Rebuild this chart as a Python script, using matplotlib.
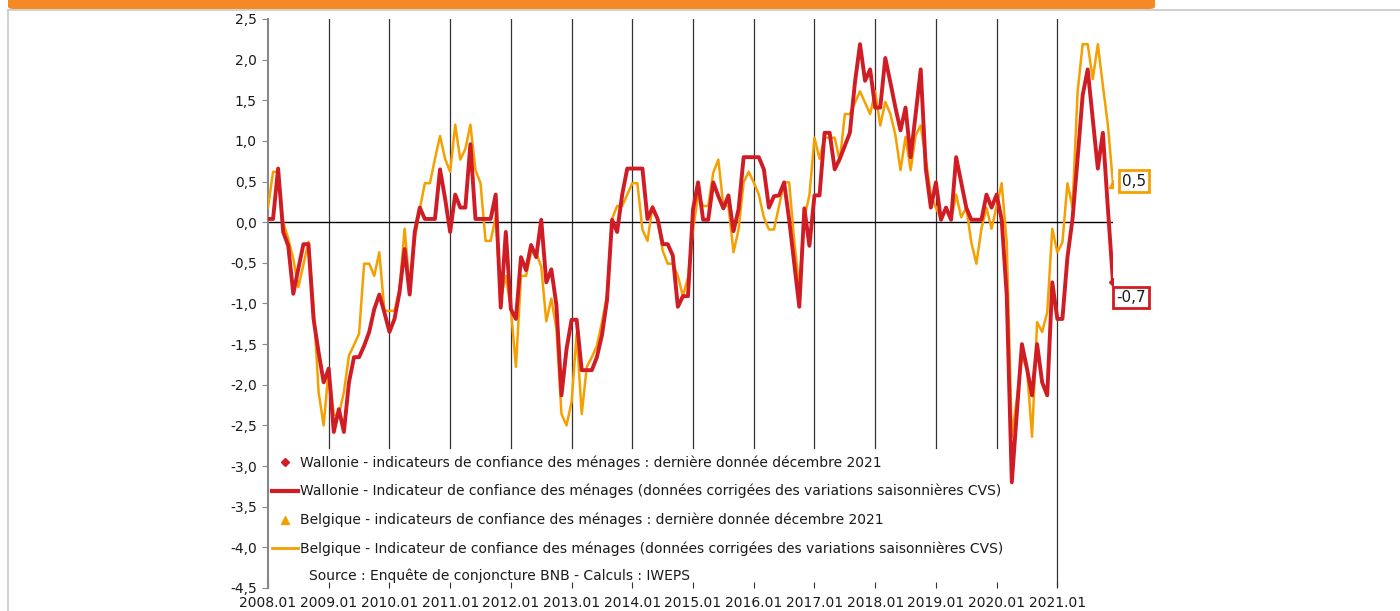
import numpy as np
import matplotlib
matplotlib.use("Agg")
import matplotlib.pyplot as plt
from matplotlib.lines import Line2D
from matplotlib.patches import FancyBboxPatch

plt.rcParams['font.family'] = ['DejaVu Sans']

# monthly values, 2008.01 -> 2021.12 (one row per year)
wallonie = [
    0.04, 0.04, 0.66, -0.12, -0.29, -0.88, -0.57, -0.27, -0.27, -1.19, -1.6, -1.97,
    -1.8, -2.58, -2.3, -2.58, -1.97, -1.66, -1.66, -1.52, -1.35, -1.07, -0.89, -1.11,
    -1.35, -1.19, -0.86, -0.33, -0.89, -0.12, 0.18, 0.04, 0.04, 0.04, 0.65, 0.29,
    -0.12, 0.34, 0.18, 0.18, 0.96, 0.04, 0.04, 0.04, 0.04, 0.34, -1.05, -0.12,
    -1.07, -1.19, -0.43, -0.59, -0.28, -0.43, 0.03, -0.74, -0.58, -1.02, -2.13, -1.56,
    -1.2, -1.2, -1.82, -1.82, -1.82, -1.66, -1.39, -0.96, 0.03, -0.12, 0.34, 0.66,
    0.66, 0.66, 0.66, 0.04, 0.18, 0.04, -0.27, -0.27, -0.41, -1.04, -0.91, -0.91,
    0.16, 0.49, 0.03, 0.03, 0.49, 0.32, 0.17, 0.33, -0.11, 0.16, 0.8, 0.8,
    0.8, 0.8, 0.65, 0.18, 0.32, 0.33, 0.49, 0.03, -0.5, -1.04, 0.17, -0.29,
    0.33, 0.33, 1.1, 1.1, 0.65, 0.78, 0.94, 1.1, 1.72, 2.19, 1.74, 1.88,
    1.41, 1.41, 2.02, 1.72, 1.41, 1.13, 1.41, 0.8, 1.33, 1.88, 0.66, 0.18,
    0.49, 0.03, 0.18, 0.03, 0.8, 0.49, 0.18, 0.03, 0.03, 0.03, 0.34, 0.18,
    0.34, 0.03, -0.9, -3.2, -2.34, -1.5, -1.8, -2.13, -1.5, -1.97, -2.13, -0.74,
    -1.19, -1.19, -0.43, 0.04, 0.78, 1.56, 1.88, 1.27, 0.66, 1.1, 0.16, -0.74,
]
belgique = [
    0.18, 0.62, 0.62, 0.0, -0.2, -0.45, -0.8, -0.52, -0.24, -1.02, -2.09, -2.5,
    -1.8, -2.37, -2.37, -2.09, -1.64, -1.51, -1.37, -0.51, -0.51, -0.66, -0.37, -1.09,
    -1.09, -1.09, -0.82, -0.08, -0.8, -0.2, 0.16, 0.48, 0.48, 0.78, 1.06, 0.78,
    0.62, 1.2, 0.77, 0.9, 1.2, 0.64, 0.48, -0.23, -0.23, 0.06, -0.94, -0.66,
    -1.07, -1.78, -0.66, -0.66, -0.37, -0.37, -0.55, -1.22, -0.94, -1.31, -2.36, -2.5,
    -2.21, -1.37, -2.36, -1.78, -1.66, -1.52, -1.23, -0.9, 0.04, 0.2, 0.2, 0.34,
    0.48, 0.48, -0.09, -0.23, 0.2, 0.04, -0.35, -0.51, -0.51, -0.66, -0.91, -0.68,
    -0.09, 0.33, 0.2, 0.2, 0.61, 0.77, 0.2, 0.2, -0.37, -0.09, 0.49, 0.62,
    0.49, 0.34, 0.06, -0.09, -0.09, 0.2, 0.49, 0.49, -0.23, -0.8, 0.06, 0.33,
    1.04, 0.78, 1.04, 1.04, 1.04, 0.75, 1.33, 1.33, 1.47, 1.61, 1.47, 1.33,
    1.61, 1.19, 1.48, 1.33, 1.07, 0.64, 1.05, 0.64, 1.07, 1.19, 0.78, 0.34,
    0.18, 0.04, 0.18, 0.04, 0.34, 0.06, 0.18, -0.25, -0.51, -0.08, 0.18, -0.08,
    0.2, 0.48, -0.25, -2.64, -2.17, -1.66, -1.8, -2.64, -1.23, -1.35, -1.11, -0.08,
    -0.37, -0.25, 0.48, 0.18, 1.6, 2.19, 2.19, 1.76, 2.19, 1.68, 1.19, 0.47,
]
years = list(range(2008, 2022))
year_labels = [f"{y}.01" for y in years]
last_labels = {"wallonie": "-0,7", "belgique": "0,5"}

RED = "#d01c24"
ORANGE = "#f5a000"
TXT = "#1a1a1a"
GRID = "#333333"

fig = plt.figure(figsize=(14, 6.11), dpi=100)

# page decoration: orange banner + light border
fig.add_artist(FancyBboxPatch((8 / 1400, 1 - 9 / 611), 1147 / 1400, 12 / 611,
                              boxstyle="round,pad=0,rounding_size=0.004",
                              transform=fig.transFigure, fc="#f58a24", ec="none"))
fig.add_artist(Line2D([8 / 1400, 1], [1 - 10 / 611] * 2, color="#c8c8c8", lw=1.2,
                      transform=fig.transFigure))
fig.add_artist(Line2D([8 / 1400] * 2, [0, 1 - 10 / 611], color="#c8c8c8", lw=1.2,
                      transform=fig.transFigure))

ax = fig.add_axes([268 / 1400, 1 - 588 / 611, 845 / 1400, 569 / 611])
x = np.arange(len(wallonie))
n = len(x)

# yearly vertical lines (stop above the legend, except the last one)
year_pos = [12 * k for k in range(len(years))]
for k, xp in enumerate(year_pos[1:], start=1):
    ymin = -4.5 if years[k] == 2021 else -2.78
    ax.plot([xp, xp], [ymin, 2.5], color=GRID, lw=0.9, zorder=1)
ax.plot([0, n - 1], [0, 0], color="black", lw=1.0, zorder=1)

ax.plot(x, belgique, color=ORANGE, lw=1.8, zorder=3)
ax.plot(x, wallonie, color=RED, lw=2.8, zorder=4)
ax.plot(x[-1], wallonie[-1], marker="D", ms=4, color=RED, zorder=5)
ax.plot(x[-1], belgique[-1], marker="^", ms=6, color=ORANGE, zorder=5)

ax.annotate(last_labels["belgique"], xy=(x[-1], belgique[-1]), xytext=(21, 3),
            textcoords="offset pixels", ha="center", va="center", fontsize=11,
            color=TXT, bbox=dict(boxstyle="square,pad=0.22", fc="white", ec=ORANGE, lw=2))
ax.annotate(last_labels["wallonie"], xy=(x[-1], wallonie[-1]), xytext=(18, -15),
            textcoords="offset pixels", ha="center", va="center", fontsize=11,
            color=TXT, bbox=dict(boxstyle="square,pad=0.22", fc="white", ec=RED, lw=2))

ax.set_xlim(0, n - 1)
ax.set_ylim(-4.5, 2.5)
yt = np.arange(-4.5, 2.51, 0.5)
ax.set_yticks(yt)
ax.set_yticklabels([f"{v:.1f}".replace(".", ",") for v in yt])
ax.set_xticks(year_pos)
ax.set_xticklabels(year_labels)
ax.tick_params(axis="y", direction="out", length=4, color="#888888", labelsize=10,
               labelcolor=TXT, pad=4)
ax.tick_params(axis="x", direction="in", length=4, color=GRID, labelsize=10,
               labelcolor=TXT, pad=6)
for s in ["top", "right", "bottom"]:
    ax.spines[s].set_visible(False)
ax.spines["left"].set_color("#888888")
ax.spines["left"].set_linewidth(1.5)
ax.patch.set_alpha(0)

handles = [
    Line2D([], [], color=RED, marker="D", ms=4, lw=0),
    Line2D([], [], color=RED, lw=3),
    Line2D([], [], color=ORANGE, marker="^", ms=6, lw=0),
    Line2D([], [], color=ORANGE, lw=2),
]
labels = [
    "Wallonie - indicateurs de confiance des ménages : dernière donnée décembre 2021",
    "Wallonie - Indicateur de confiance des ménages (données corrigées des variations saisonnières CVS)",
    "Belgique - indicateurs de confiance des ménages : dernière donnée décembre 2021",
    "Belgique - Indicateur de confiance des ménages (données corrigées des variations saisonnières CVS)",
]
leg = ax.legend(handles, labels, loc="upper left", bbox_to_anchor=(272 / 1400, 1 - 455 / 611),
                bbox_transform=fig.transFigure, frameon=False, fontsize=10,
                handlelength=1.9, handletextpad=0.15, labelspacing=1.04,
                borderpad=0, borderaxespad=0)
for t in leg.get_texts():
    t.set_color(TXT)

fig.text(309 / 1400, 1 - 576 / 611, "Source : Enquête de conjoncture BNB - Calculs : IWEPS",
         fontsize=10, color=TXT, va="center")

fig.savefig("out.png", dpi=100)
